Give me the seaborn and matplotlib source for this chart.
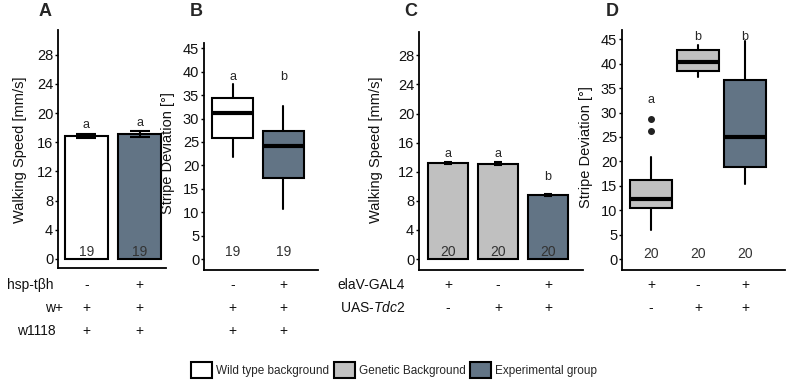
import matplotlib
matplotlib.use("Agg")
import matplotlib.pyplot as plt
import matplotlib.transforms as mtrans
from matplotlib.patches import Patch
import seaborn as sns
import pandas as pd

# couleurs des groupes
WHITE = "#ffffff"
GREY = "#c0c0c0"
BLUE = "#627485"

# --- Panel A : vitesse de marche (hsp-tbh) ---
a_groups = ["wt", "hsp"]
a_speed = [16.9, 17.1]
a_err = [0.3, 0.4]
a_letters = ["a", "a"]
a_n = ["19", "19"]
a_colors = [WHITE, BLUE]

# --- Panel B : stripe deviation (boxplot) ---
b_med = [31.2, 24.2]
b_q1 = [25.9, 17.3]
b_q3 = [34.5, 27.3]
b_lo = [21.7, 10.6]
b_hi = [37.4, 32.7]
b_fliers = [[], []]
b_letters = ["a", "b"]
b_n = ["19", "19"]
b_colors = [WHITE, BLUE]

# --- Panel C : vitesse de marche (Tdc2) ---
c_groups = ["gal4", "uas", "exp"]
c_speed = [13.2, 13.1, 8.8]
c_err = [0.2, 0.2, 0.1]
c_letters = ["a", "a", "b"]
c_n = ["20", "20", "20"]
c_colors = [GREY, GREY, BLUE]

# --- Panel D : stripe deviation (boxplot) ---
d_med = [12.3, 40.3, 25.0]
d_q1 = [10.4, 38.6, 18.8]
d_q3 = [16.1, 42.9, 36.7]
d_lo = [5.9, 37.2, 15.3]
d_hi = [20.9, 43.8, 44.6]
d_fliers = [[26.2, 28.7], [], []]
d_letters = ["a", "b", "b"]
d_n = ["20", "20", "20"]
d_colors = [GREY, GREY, BLUE]

# genotypes sous les axes
a_row_names = ["hsp-tβh", "w+", "w1118"]
a_rows = [["-", "+"], ["+", "+"], ["+", "+"]]
c_row_names = ["elaV-GAL4", "UAS-$\\mathit{Tdc2}$"]
c_rows = [["+", "-", "+"], ["-", "+", "+"]]

legend_labels = ["Wild type background", "Genetic Background", "Experimental group"]
legend_colors = [WHITE, GREY, BLUE]

sns.set_theme(style="white")
plt.rcParams["font.family"] = ["Liberation Sans", "DejaVu Sans"]
plt.rcParams["mathtext.fontset"] = "custom"
plt.rcParams["mathtext.rm"] = "Liberation Sans"
plt.rcParams["mathtext.it"] = "Liberation Sans:italic"

W, H = 786, 384
fig = plt.figure(figsize=(W / 100, H / 100), dpi=100)


def px_axes(l, t, r, b):
    return fig.add_axes([l / W, 1 - b / H, (r - l) / W, (b - t) / H])


def style_axis(ax, ticks, ylim, xlim, label, label_xy):
    ax.set_ylim(*ylim)
    ax.set_xlim(*xlim)
    ax.set_yticks(ticks)
    ax.set_xticks([])
    ax.set_xlabel("")
    ax.set_ylabel(label, fontsize=10.5, color="#111111")
    ax.yaxis.set_label_coords(label_xy[0] / W, 1 - label_xy[1] / H, transform=fig.transFigure)
    for s in ["top", "right"]:
        ax.spines[s].set_visible(False)
    for s in ["left", "bottom"]:
        ax.spines[s].set_color("black")
        ax.spines[s].set_linewidth(1.3)
    ax.tick_params(axis="y", direction="out", length=2, width=1, pad=1.5,
                   labelsize=10.5, left=True, colors="black")
    ax.tick_params(axis="y", labelcolor="#111111")


def draw_bars(ax, groups, vals, err, colors, capsize):
    df = pd.DataFrame({"group": groups, "val": vals})
    sns.barplot(data=df, x="group", y="val", hue="group", palette=colors, legend=False,
                saturation=1, width=0.8, edgecolor="black", linewidth=1.5,
                errorbar=None, ax=ax)
    ax.errorbar(range(len(vals)), vals, yerr=err, fmt="none", ecolor="black",
                elinewidth=1.5, capsize=capsize, capthick=1.5, zorder=5)


def draw_boxes(ax, med, q1, q3, lo, hi, fliers, colors, width):
    stats = [dict(med=med[i], q1=q1[i], q3=q3[i], whislo=lo[i], whishi=hi[i],
                  fliers=fliers[i]) for i in range(len(med))]
    bp = ax.bxp(stats, positions=list(range(len(med))), widths=width, patch_artist=True,
                showcaps=False,
                boxprops=dict(linewidth=1.5, edgecolor="black"),
                medianprops=dict(color="black", linewidth=3),
                whiskerprops=dict(color="black", linewidth=1.5),
                flierprops=dict(marker="o", markerfacecolor="#222222",
                                markeredgecolor="#222222", markersize=4))
    for patch, c in zip(bp["boxes"], colors):
        patch.set_facecolor(c)


def genotype_rows(ax, names, rows, ys, name_x):
    tr = mtrans.blended_transform_factory(ax.transData, fig.transFigure)
    for r, row in enumerate(rows):
        y = 1 - ys[r] / H
        if names is not None:
            fig.text(name_x[r] / W, y, names[r], ha="right", va="center", fontsize=10,
                     color="#111111")
        for i, sym in enumerate(row):
            ax.text(i, y, sym, transform=tr, ha="center", va="center", fontsize=10,
                    color="#111111")


# ---- A ----
axA = px_axes(58, 30, 166, 268)
draw_bars(axA, a_groups, a_speed, a_err, a_colors, 7)
style_axis(axA, range(0, 29, 4), (-1.24, 31.4), (-0.53, 1.49),
           "Walking Speed [mm/s]", (27, 150))
for i in range(len(a_speed)):
    axA.text(i, a_speed[i] + a_err[i] + 1.2, a_letters[i], ha="center", va="center", fontsize=9)
    axA.text(i, 1.0, a_n[i], ha="center", va="center", fontsize=10, color="#333333")
genotype_rows(axA, a_row_names, a_rows, [285, 308, 331], [53, 63, 56])

# ---- B ----
axB = px_axes(204, 43, 318, 270)
draw_boxes(axB, b_med, b_q1, b_q3, b_lo, b_hi, b_fliers, b_colors, 0.8)
style_axis(axB, range(0, 46, 5), (-2.35, 46.15), (-0.56, 1.68),
           "Stripe Deviation [°]", (175, 153))
for i in range(len(b_med)):
    axB.text(i, 38.9, b_letters[i], ha="center", va="center", fontsize=9)
    axB.text(i, 1.5, b_n[i], ha="center", va="center", fontsize=10, color="#333333")
genotype_rows(axB, None, a_rows, [285, 308, 331], None)

# ---- C ----
axC = px_axes(419, 32, 583, 270)
draw_bars(axC, c_groups, c_speed, c_err, c_colors, 3)
style_axis(axC, range(0, 29, 4), (-1.5, 31.2), (-0.58, 2.7),
           "Walking Speed [mm/s]", (383, 150))
c_letter_y = [14.4, 14.4, 11.3]
for i in range(len(c_speed)):
    axC.text(i, c_letter_y[i], c_letters[i], ha="center", va="center", fontsize=9)
    axC.text(i, 1.0, c_n[i], ha="center", va="center", fontsize=10, color="#333333")
genotype_rows(axC, c_row_names, c_rows, [285, 308], [405, 405])

# ---- D ----
axD = px_axes(622, 30, 785, 270)
draw_boxes(axD, d_med, d_q1, d_q3, d_lo, d_hi, d_fliers, d_colors, 0.89)
style_axis(axD, range(0, 46, 5), (-2.25, 46.9), (-0.62, 2.85),
           "Stripe Deviation [°]", (593, 147))
d_letter_y = [32.5, 45.5, 45.5]
for i in range(len(d_med)):
    axD.text(i, d_letter_y[i], d_letters[i], ha="center", va="center", fontsize=9)
    axD.text(i, 1.0, d_n[i], ha="center", va="center", fontsize=10, color="#333333")
genotype_rows(axD, None, c_rows, [285, 308], None)

# lettres des panneaux
for lab, x in zip(["A", "B", "C", "D"], [45, 196, 411, 612]):
    fig.text(x / W, 1 - 11 / H, lab, ha="center", va="center", fontsize=13, fontweight="bold")

# légende
handles = [Patch(facecolor=c, edgecolor="black", linewidth=1.5) for c in legend_colors]
fig.legend(handles, legend_labels, loc="center", bbox_to_anchor=(394 / W, 1 - 370 / H),
           ncol=3, frameon=False, fontsize=8.5, handlelength=1.8, handleheight=1.6,
           handletextpad=0.3, columnspacing=0.4, borderpad=0)

fig.savefig("out.png", dpi=100)
